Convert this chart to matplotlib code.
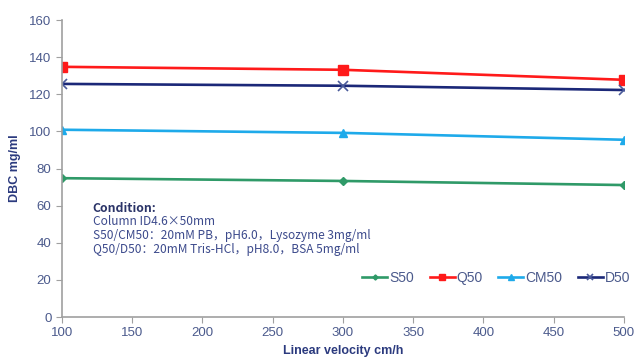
import matplotlib
matplotlib.use("Agg")
import matplotlib.pyplot as plt

velocity = [100, 300, 500]
s50 = [74.8, 73.3, 71.1]
q50 = [134.8, 133.2, 127.8]
cm50 = [100.9, 99.2, 95.5]
d50 = [125.6, 124.6, 122.3]

x_ticks = [100, 150, 200, 250, 300, 350, 400, 450, 500]
y_ticks = [0, 20, 40, 60, 80, 100, 120, 140, 160]

condition_title = "Condition:"
condition_lines = [
    "Column ID4.6×50mm",
    "S50/CM50：20mM PB，pH6.0，Lysozyme 3mg/ml",
    "Q50/D50：20mM Tris-HCl，pH8.0，BSA 5mg/ml",
]

tick_color = "#4b5a8c"
label_color = "#2b3a7e"
spine_color = "#a0a0a0"

fig = plt.figure(figsize=(6.38, 3.58), dpi=100)
ax = fig.add_axes([0.097, 0.1145, 0.881, 0.8295])

ax.plot(velocity, s50, color="#2f9a68", lw=1.9, marker="D", ms=4, label="S50")
ax.plot(velocity, q50, color="#ff1a1a", lw=1.9, marker="s", ms=7, label="Q50")
ax.plot(velocity, cm50, color="#1eaaea", lw=1.9, marker="^", ms=6, label="CM50")
ax.plot(velocity, d50, color="#1b2878", lw=1.9, marker="x", ms=7, mew=1.2,
        mec="#4a5a9a", label="D50")

ax.set_xlim(100, 500)
ax.set_ylim(0, 160)
ax.set_xticks(x_ticks)
ax.set_yticks(y_ticks)
ax.tick_params(colors=spine_color, labelcolor=tick_color, labelsize=9.5,
               direction="out", length=4)
for lbl in ax.get_xticklabels() + ax.get_yticklabels():
    lbl.set_family("Liberation Sans")
for side in ("top", "right"):
    ax.spines[side].set_visible(False)
for side in ("left", "bottom"):
    ax.spines[side].set_color(spine_color)
    ax.spines[side].set_linewidth(1.2)

ax.set_xlabel("Linear velocity cm/h", fontsize=9, fontweight="bold",
              color=label_color, family="Liberation Sans", labelpad=4)
ax.set_ylabel("DBC mg/ml", fontsize=9, fontweight="bold",
              color=label_color, family="Liberation Sans", labelpad=6)

# condition notes, one line at a time
cond_fam = ["Noto Sans CJK SC", "DejaVu Sans"]
ax.text(0.055, 0.367, condition_title, transform=ax.transAxes, fontsize=8.8,
        fontweight="bold", color="#2b3468", family=cond_fam, va="center")
for i, line in enumerate(condition_lines):
    ax.text(0.055, 0.320 - i * 0.047, line, transform=ax.transAxes,
            fontsize=8.6, color="#3c4a8c", family=cond_fam, va="center")

leg = ax.legend(loc="center right", bbox_to_anchor=(1.011, 0.131), ncol=4,
                frameon=False, fontsize=10, handlelength=1.8,
                columnspacing=1.1, handletextpad=0.15, borderpad=0,
                borderaxespad=0, markerscale=0.65)
for t in leg.get_texts():
    t.set_color(tick_color)
    t.set_family("Liberation Sans")

fig.savefig("out.png", dpi=100)
